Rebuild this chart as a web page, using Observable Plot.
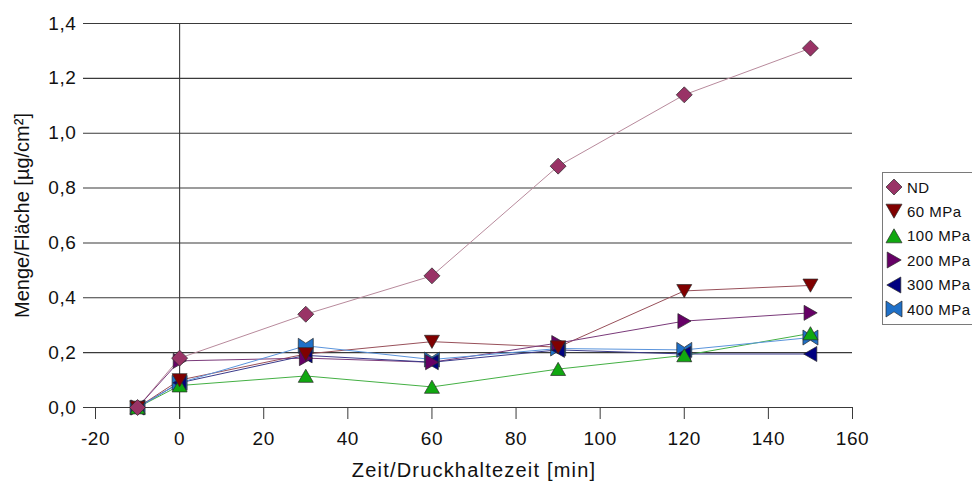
<!DOCTYPE html>
<html>
<head>
<meta charset="utf-8">
<script src="https://cdn.jsdelivr.net/npm/d3@7"></script>
<script src="https://cdn.jsdelivr.net/npm/@observablehq/plot@0.6"></script>
<style>
  html, body { margin: 0; padding: 0; background: #fff; }
  #wrap { position: relative; width: 972px; height: 486px; overflow: hidden; background: #fff;
          font-family: "Liberation Sans", Arial, sans-serif; color: #111; }
  #wrap svg g[aria-label$="tick label"] { font-size: 19px !important; letter-spacing: 0.6px; }
  #wrap svg text.xtitle { font-size: 20px; letter-spacing: 1.2px; }
  #wrap svg text.ytitle { font-size: 20px; letter-spacing: 0px; }
  #legend { position: absolute; left: 882px; top: 172px; width: 110px; height: 153px;
            border: 1px solid #7a7a7a; background: #fff; box-sizing: border-box; }
  .item { position: absolute; left: 0; height: 20px; display: flex; align-items: center; font-size: 15px; letter-spacing: 0.5px; white-space: nowrap; }
  .item svg { margin-left: 2px; margin-right: 4px; }
</style>
</head>
<body>
<div id="wrap"><div id="legend"></div></div>
<script>
// ---- data ----
const times = [-10, 0, 30, 60, 90, 120, 150];
const seriesNames = ["ND", "60 MPa", "100 MPa", "200 MPa", "300 MPa", "400 MPa"];
const valND     = [0, 0.18, 0.34, 0.48, 0.88, 1.14, 1.31];
const val60     = [0, 0.10, 0.195, 0.24, 0.22, 0.425, 0.445];
const val100    = [0, 0.08, 0.115, 0.075, 0.14, 0.19, 0.27];
const val200    = [0, 0.17, 0.18, 0.165, 0.235, 0.315, 0.345];
const val300    = [0, 0.09, 0.19, 0.165, 0.21, 0.195, 0.195];
const val400    = [0, 0.09, 0.225, 0.175, 0.215, 0.21, 0.255];
const xTicks = [-20, 0, 20, 40, 60, 80, 100, 120, 140, 160];
const yTicks = [0, 0.2, 0.4, 0.6, 0.8, 1.0, 1.2, 1.4];

// ---- styles ----
const markerFill = ["#993366", "#800000", "#11a811", "#660066", "#000080", "#1f70c8"];
const lineStroke = ["#b88a9c", "#98505a", "#44b044", "#7a3a7a", "#3a3a8a", "#5a94dc"];

// ---- custom symbols ----
const rad = size => Math.sqrt(size / Math.PI);
const symDiamond = { draw(c, size) { const r = rad(size); c.moveTo(0, -r); c.lineTo(r, 0); c.lineTo(0, r); c.lineTo(-r, 0); c.closePath(); } };
const symDown = { draw(c, size) { const r = rad(size); c.moveTo(-r, -r * 0.85); c.lineTo(r, -r * 0.85); c.lineTo(0, r * 0.9); c.closePath(); } };
const symUp = { draw(c, size) { const r = rad(size); c.moveTo(-r, r * 0.85); c.lineTo(r, r * 0.85); c.lineTo(0, -r * 0.9); c.closePath(); } };
const symRight = { draw(c, size) { const r = rad(size); c.moveTo(-r * 0.85, -r); c.lineTo(-r * 0.85, r); c.lineTo(r * 0.9, 0); c.closePath(); } };
const symLeft = { draw(c, size) { const r = rad(size); c.moveTo(r * 0.85, -r); c.lineTo(r * 0.85, r); c.lineTo(-r * 0.9, 0); c.closePath(); } };
const symBow = { draw(c, size) { const r = rad(size); c.moveTo(-r, -r); c.lineTo(0, -r * 0.35); c.lineTo(r, -r); c.lineTo(r, r); c.lineTo(0, r * 0.35); c.lineTo(-r, r); c.closePath(); } };
const symbols = [symDiamond, symDown, symUp, symRight, symLeft, symBow];
const radii = [8, 7.5, 7.5, 7.5, 7.5, 7.5];

const allValues = [valND, val60, val100, val200, val300, val400];
const rows = [];
seriesNames.forEach((s, i) => times.forEach((t, j) => rows.push({ series: s, idx: i, t, v: allValues[i][j] })));

const lineMarks = seriesNames.map((s, i) =>
  Plot.line(rows.filter(d => d.series === s), { x: "t", y: "v", stroke: lineStroke[i], strokeWidth: 1 }));
const dotMarks = seriesNames.map((s, i) =>
  Plot.dot(rows.filter(d => d.series === s), { x: "t", y: "v", symbol: symbols[i], r: radii[i],
    fill: markerFill[i], stroke: "#2a2a2a", strokeWidth: 0.7 })).reverse();

const chart = Plot.plot({
  width: 972, height: 486,
  marginLeft: 95, marginRight: 120, marginTop: 23, marginBottom: 79,
  style: { fontFamily: "Liberation Sans, Arial, sans-serif", background: "transparent", overflow: "visible", color: "#111" },
  x: { domain: [-20, 160] },
  y: { domain: [0, 1.4] },
  marks: [
    Plot.ruleY(yTicks, { stroke: "#3a3a3a", strokeWidth: 1.1, insetLeft: -12 }),
    Plot.ruleX([0], { stroke: "#3a3a3a", strokeWidth: 1.1, insetBottom: -12 }),
    Plot.axisX({ ticks: xTicks, tickSize: 12, tickPadding: 12, tickFormat: d => String(d), fontSize: 19, label: null, stroke: "#3a3a3a" }),
    Plot.axisY({ ticks: yTicks, tickSize: 0, tickPadding: 19, tickFormat: d => d.toFixed(1).replace(".", ","), fontSize: 19, label: null }),
    Plot.text(["Menge/Fläche [µg/cm²]"], { frameAnchor: "left", textAnchor: "middle", rotate: -90, dx: -73, fontSize: 20, fill: "#111" }),
    Plot.text(["Zeit/Druckhaltezeit [min]"], { frameAnchor: "bottom", lineAnchor: "middle", dy: 63, fontSize: 20, fill: "#111" }),
    ...lineMarks,
    ...dotMarks
  ]
});
document.getElementById("wrap").prepend(chart);
chart.querySelectorAll("text").forEach(t => {
  if (t.textContent.startsWith("Zeit/")) t.classList.add("xtitle");
  if (t.textContent.startsWith("Menge/")) t.classList.add("ytitle");
});

// legend
const legend = document.getElementById("legend");
seriesNames.forEach((s, i) => {
  const item = document.createElement("div");
  item.className = "item";
  item.style.top = (4 + i * 24.4) + "px";
  const svg = d3.create("svg").attr("width", 18).attr("height", 18);
  svg.append("path")
    .attr("transform", "translate(9,9)")
    .attr("d", d3.symbol(symbols[i], Math.PI * 8 * 8)())
    .attr("fill", markerFill[i]).attr("stroke", "#2a2a2a").attr("stroke-width", 0.7);
  item.appendChild(svg.node());
  const span = document.createElement("span");
  span.textContent = s;
  item.appendChild(span);
  legend.appendChild(item);
});
</script>
</body>
</html>
